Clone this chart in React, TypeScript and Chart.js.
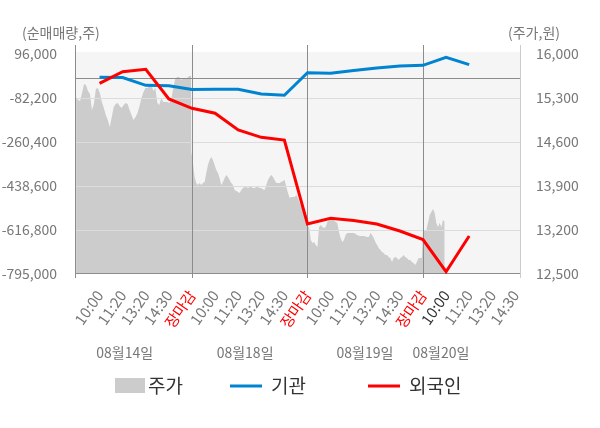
import React, { useEffect, useRef } from "react";
import { Chart, registerables } from "chart.js";

Chart.register(...registerables);

// ---- data ----
const xLabels = [
  "10:00", "11:20", "13:20", "14:30", "장마감",
  "10:00", "11:20", "13:20", "14:30", "장마감",
  "10:00", "11:20", "13:20", "14:30", "장마감",
  "10:00", "11:20", "13:20", "14:30",
];
const dayLabels = ["08월14일", "08월18일", "08월19일", "08월20일"];

const institution = [
  1600, 500, -31000, -33000, -48000,
  -47000, -47000, -66000, -71300, 20300,
  17900, 29000, 39300, 47400, 50200,
  82600, 52700,
];
const foreign = [
  -22700, 24300, 34000, -86250, -124000,
  -144000, -211800, -241400, -252300, -592500,
  -569400, -578300, -592500, -620900, -655300,
  -785700, -641100,
];

const priceDay1 = [
  15316, 15268, 15252, 15380, 15523, 15507, 15411, 15364, 15109, 15205,
  15443, 15459, 15380, 15236, 15141, 15030, 14950, 14839, 14998, 15157,
  15205, 15220, 15173, 15141, 15189, 15220, 15205, 15109, 15030, 14950,
  14998, 15061, 15173, 15300, 15395, 15459, 15459, 15491, 15507, 15411,
  15459, 15220, 15189, 15300, 15236, 15236, 15236, 15220, 15268, 15459,
  15602, 15634, 15634, 15586, 15618, 15618, 15618, 15650, 15650,
];
const priceDay2 = [
  14446, 14266, 14043, 13948, 13916, 13948, 13916, 13948, 13964, 14107,
  14234, 14314, 14361, 14314, 14234, 14155, 14107, 14027, 13916, 13964,
  14027, 14075, 14043, 13995, 13948, 13916, 13836, 13820, 13805, 13789,
  13836, 13868, 13884, 13884, 13868, 13884, 13884, 13868, 13868, 13884,
  13884, 13868, 13868, 13850, 13836, 13916, 13995, 14043, 14075, 14043,
  13995, 13948, 13948, 13948, 13964, 13980, 13995, 13884, 13789, 13709,
  13725, 13725, 13725, 13757, 13709, 13630, 13566, 13550, 13486, 13439,
];
const priceDay3 = [
  13248, 13248, 13041, 12993, 13009, 12961, 12930, 13248, 13280, 13248,
  13232, 13248, 13327, 13359, 13391, 13359, 13359, 13327, 13311, 13168,
  13073, 13009, 13041, 13121, 13152, 13152, 13152, 13152, 13152, 13137,
  13121, 13110, 13105, 13105, 13105, 13097, 13089, 13089, 13152, 13121,
  13073, 13009, 12961, 12914, 12882, 12850, 12834, 12802, 12802, 12771,
  12755, 12691, 12755, 12771, 12755, 12723, 12755, 12771, 12802, 12771,
  12755, 12723, 12723, 12691, 12675, 12643, 12691, 12755, 12755, 12755,
];
const priceDay4 = [
  13200, 13200, 13200, 13311, 13439, 13486, 13534, 13470, 13311, 13248,
  13311, 13248, 13359, 13327,
];

const leftTicks = [-795000, -616800, -438600, -260400, -82200, 96000];
const rightTicks = [12500, 13200, 13900, 14600, 15300, 16000];

// span of each session on the x axis (category units)
const daySpans: [number, number][] = [
  [-1.017, 3.96],
  [3.97, 8.95],
  [9.0, 13.95],
  [14.0, 14.94],
];

const FONT = "'Noto Sans CJK KR', 'Noto Sans', sans-serif";

function buildPrice() {
  const days = [priceDay1, priceDay2, priceDay3, priceDay4];
  const pts: { x: number; y: number }[] = [];
  days.forEach((arr, d) => {
    const [a, b] = daySpans[d];
    arr.forEach((v, i) => {
      pts.push({ x: a + ((b - a) * i) / (arr.length - 1), y: v });
    });
  });
  return pts;
}

const deco = {
  id: "deco",
  beforeDraw(chart: any) {
    const { ctx, chartArea } = chart;
    ctx.save();
    ctx.fillStyle = "#ffffff";
    ctx.fillRect(0, 0, chart.width, chart.height);
    ctx.fillStyle = "#f5f5f5";
    ctx.fillRect(chartArea.left, chartArea.top + 7, chartArea.right - chartArea.left, chartArea.bottom - chartArea.top - 7);
    ctx.restore();
  },
  afterDatasetDraw(chart: any, args: any) {
    if (args.index !== 2) return;
    const { ctx, chartArea } = chart;
    const { left, right, top, bottom } = chartArea;
    const ys = chart.scales.y;
    const xs = chart.scales.x;
    const hline = (y: number, color: string) => {
      const p = Math.round(y) + 0.5;
      ctx.strokeStyle = color;
      ctx.beginPath();
      ctx.moveTo(left, p);
      ctx.lineTo(right, p);
      ctx.stroke();
    };
    const vline = (x: number, color: string) => {
      const p = Math.round(x) + 0.5;
      ctx.strokeStyle = color;
      ctx.beginPath();
      ctx.moveTo(p, top);
      ctx.lineTo(p, bottom + 4);
      ctx.stroke();
    };
    ctx.save();
    ctx.lineWidth = 1;
    leftTicks.slice(1, -1).forEach((v) => hline(ys.getPixelForValue(v), "#dcdcdc"));
    hline(ys.getPixelForValue(0), "#8c8c8c");
    xLabels.forEach((l, i) => {
      if (l === "장마감") vline(xs.getPixelForValue(i), "#8c8c8c");
    });
    vline(left - 1, "#8c8c8c");
    vline(right, "#cccccc");
    hline(bottom - 1, "#8c8c8c");
    ctx.restore();
  },
  afterDraw(chart: any) {
    const { ctx } = chart;
    const xs = chart.scales.x;
    ctx.save();
    ctx.textBaseline = "middle";
    ctx.fillStyle = "#777777";
    ctx.font = `14px ${FONT}`;
    ctx.textAlign = "left";
    ctx.fillText("(순매매량,주)", 22, 33);
    ctx.fillText("(주가,원)", 508, 33);
    ctx.textAlign = "center";
    const dayPos = [1.09, 6.3, 11.49, 14.78];
    dayLabels.forEach((d, i) => ctx.fillText(d, xs.getPixelForValue(dayPos[i]), 353));

    // legend
    const ly = 386;
    ctx.font = `19px ${FONT}`;
    ctx.textAlign = "left";
    ctx.fillStyle = "#cccccc";
    ctx.fillRect(115, 378, 30, 15);
    ctx.fillStyle = "#333333";
    ctx.fillText("주가", 148, ly);
    ctx.lineWidth = 3;
    ctx.strokeStyle = "#0083d0";
    ctx.beginPath();
    ctx.moveTo(230, ly);
    ctx.lineTo(262, ly);
    ctx.stroke();
    ctx.fillText("기관", 271, ly);
    ctx.strokeStyle = "#ff0000";
    ctx.beginPath();
    ctx.moveTo(368, ly);
    ctx.lineTo(400, ly);
    ctx.stroke();
    ctx.fillText("외국인", 409, ly);
    ctx.restore();
  },
};

export default function App() {
  const ref = useRef<HTMLCanvasElement>(null);
  useEffect(() => {
    document.body.style.margin = "0";
    const canvas = ref.current;
    if (!canvas) return;
    const chart = new Chart(canvas, {
      type: "line",
      data: {
        datasets: [
          {
            label: "외국인",
            data: foreign.map((v, i) => ({ x: i, y: v })),
            borderColor: "#ff0000",
            borderWidth: 3,
            pointRadius: 0,
            fill: false,
            yAxisID: "y",
            xAxisID: "x",
          },
          {
            label: "기관",
            data: institution.map((v, i) => ({ x: i, y: v })),
            borderColor: "#0083d0",
            borderWidth: 3,
            pointRadius: 0,
            fill: false,
            yAxisID: "y",
            xAxisID: "x",
          },
          {
            label: "주가",
            data: buildPrice(),
            borderWidth: 0,
            borderColor: "rgba(0,0,0,0)",
            backgroundColor: "#cccccc",
            pointRadius: 0,
            fill: "start",
            yAxisID: "y1",
            xAxisID: "x",
          },
        ],
      },
      options: {
        responsive: false,
        animation: false,
        layout: { padding: { top: 45, left: 0, right: 0, bottom: 0 } },
        plugins: { legend: { display: false }, tooltip: { enabled: false } },
        scales: {
          x: {
            type: "linear",
            min: -1.02,
            max: 18.2,
            grid: { display: false },
            border: { display: false },
            afterBuildTicks: (axis: any) => {
              axis.ticks = xLabels.map((_, i) => ({ value: i }));
            },
            afterFit: (s: any) => {
              s.height = 154;
            },
            ticks: {
              autoSkip: false,
              maxRotation: 55,
              minRotation: 55,
              padding: 5,
              font: { family: FONT, size: 15 },
              color: (c: any) =>
                c.index === 15 ? "#333333" : xLabels[c.index] === "장마감" ? "#ff0000" : "#777777",
              callback: (v: any) => xLabels[v] ?? "",
            },
          },
          y: {
            position: "left",
            min: -795000,
            max: 132450,
            grid: { display: false },
            border: { display: false },
            afterBuildTicks: (axis: any) => {
              axis.ticks = leftTicks.map((v) => ({ value: v }));
            },
            afterFit: (s: any) => {
              s.width = 76;
            },
            ticks: {
              padding: 11,
              font: { family: FONT, size: 14 },
              color: "#777777",
              callback: (v: any) => Number(v).toLocaleString("en-US"),
            },
          },
          y1: {
            position: "right",
            min: 12500,
            max: 16000 + (9 * 3500) / 220,
            grid: { display: false },
            border: { display: false },
            afterBuildTicks: (axis: any) => {
              axis.ticks = rightTicks.map((v) => ({ value: v }));
            },
            afterFit: (s: any) => {
              s.width = 80;
            },
            ticks: {
              padding: 8,
              font: { family: FONT, size: 14 },
              color: "#777777",
              callback: (v: any) => Number(v).toLocaleString("en-US"),
            },
          },
        },
      },
      plugins: [deco],
    });
    return () => chart.destroy();
  }, []);
  return <canvas ref={ref} width={600} height={428} style={{ display: "block" }} />;
}
